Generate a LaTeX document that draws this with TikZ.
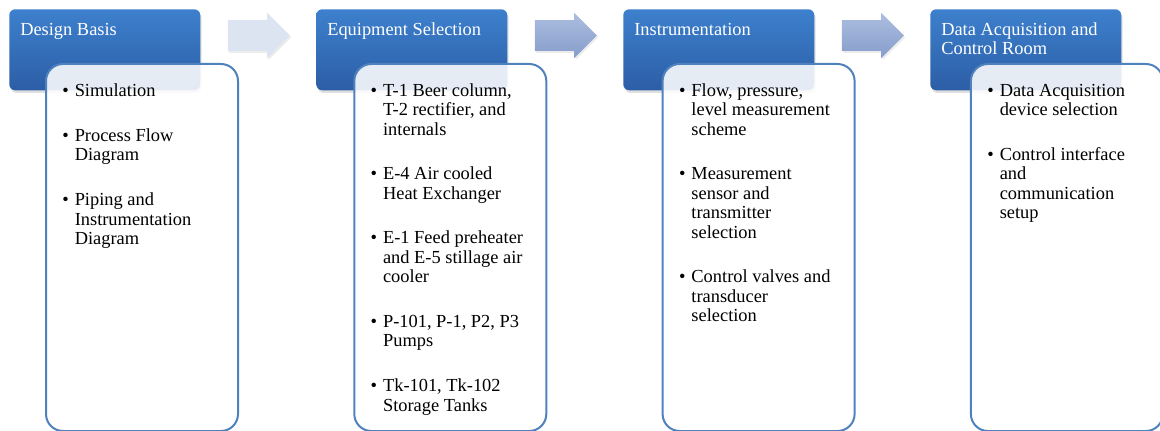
\documentclass[tikz,border=0pt]{standalone}
\usepackage{fontspec}
\setmainfont{Liberation Serif}
\usetikzlibrary{calc,shapes.arrows,shadows}

\definecolor{headtop}{RGB}{61,128,205}
\definecolor{headbot}{RGB}{44,94,166}
\definecolor{boxblue}{RGB}{79,129,189}
\definecolor{arrowpale}{RGB}{220,228,241}
\definecolor{arrowtop}{RGB}{172,190,224}
\definecolor{arrowbot}{RGB}{134,157,203}

\newcommand{\stepfont}{\fontsize{13.8}{14.6}\selectfont}
\newcommand{\bul}{\strut\llap{\textbullet\hspace{4.5pt}}}

\tikzset{
	headbox/.style={rectangle, rounded corners=4.5pt, top color=headtop, bottom color=headbot,
		minimum width=143.25pt, minimum height=60.75pt, anchor=north west, inner sep=0pt,
		drop shadow={shadow xshift=1pt, shadow yshift=-2pt, opacity=0.25}},
	headtext/.style={anchor=north west, inner sep=0pt, align=left, text=white, font=\stepfont},
	listbox/.style={rectangle, rounded corners=12.75pt, draw=boxblue, line width=1.5pt,
		fill=white, fill opacity=0.88, minimum width=144pt, minimum height=275.25pt,
		anchor=north west, inner sep=0pt},
	listitem/.style={anchor=north west, inner sep=0pt, align=left, font=\stepfont},
	blockarrow/.style={single arrow, single arrow head extend=5.6pt, minimum height=46.5pt,
		inner xsep=0pt, inner ysep=11.25pt, draw=none,
		drop shadow={shadow xshift=1pt, shadow yshift=-1.5pt, opacity=0.15}}
}

\begin{document}
\begin{tikzpicture}[x=0.75pt,y=-0.75pt]
	\def\up{13.6} % strut height in px
	\useasboundingbox (0,0) rectangle (1160,431);
	
	% headers
	\foreach \i/\name in {0/Design Basis,1/Equipment Selection,2/Instrumentation,3/{Data Acquisition and\\Control Room}} {
		\node[headbox] (hd\i) at (9+307*\i,9) {};
		\node[headtext] (ht\i) at (20+307*\i,35-\up) {\strut\name};
	}
	
	% arrows between the steps
	\node[blockarrow, fill=arrowpale] (ar1) at ($(hd0.north east)!0.5!(hd1.north west)+(-7,26.5)$) {};
	\node[blockarrow, top color=arrowtop, bottom color=arrowbot] (ar2) at ($(hd1.north east)!0.5!(hd2.north west)+(-7,26.5)$) {};
	\node[blockarrow, top color=arrowtop, bottom color=arrowbot] (ar3) at ($(hd2.north east)!0.5!(hd3.north west)+(-7,26.5)$) {};
	
	% list boxes
	\foreach \i in {0,...,3}
		\node[listbox] (lb\i) at (45+308.3*\i,63) {};
	
	% Design Basis
	\node[listitem] (it01) at (74.5,96-\up) {\bul Simulation};
	\node[listitem] (it02) at (74.5,141-\up) {\bul Process Flow\\Diagram};
	\node[listitem] (it03) at (74.5,205.5-\up) {\bul Piping and\\Instrumentation\\Diagram};
	
	% Equipment Selection
	\node[listitem] (it11) at (382.8,96-\up) {\bul T-1 Beer column,\\T-2 rectifier, and\\internals};
	\node[listitem] (it12) at (382.8,179.5-\up) {\bul E-4 Air cooled\\Heat Exchanger};
	\node[listitem] (it13) at (382.8,243.5-\up) {\bul E-1 Feed preheater\\and E-5 stillage air\\cooler};
	\node[listitem] (it14) at (382.8,327-\up) {\bul P-101, P-1, P2, P3\\Pumps};
	\node[listitem] (it15) at (382.8,391.5-\up) {\bul Tk-101, Tk-102\\Storage Tanks};
	
	% Instrumentation
	\node[listitem] (it21) at (691.2,96-\up) {\bul Flow, pressure,\\level measurement\\scheme};
	\node[listitem] (it22) at (691.2,179.5-\up) {\bul Measurement\\sensor and\\transmitter\\selection};
	\node[listitem] (it23) at (691.2,282.5-\up) {\bul Control valves and\\transducer\\selection};
	
	% Data Acquisition and Control Room
	\node[listitem] (it31) at (999.5,96-\up) {\bul Data Acquisition\\device selection};
	\node[listitem] (it32) at (999.5,160-\up) {\bul Control interface\\and\\communication\\setup};
\end{tikzpicture}
\end{document}
